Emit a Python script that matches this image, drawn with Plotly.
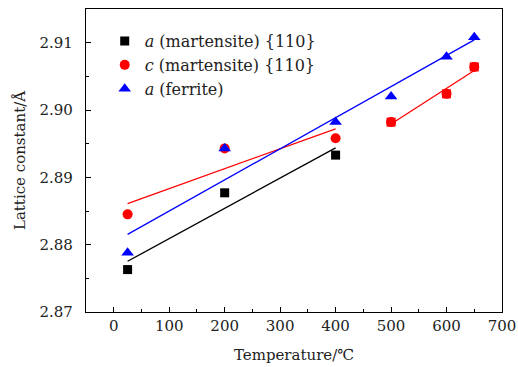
import numpy as np
import plotly.graph_objects as go

temp = [25, 200, 400, 500, 600, 650]
a_mart_x = [25, 200, 400]
a_mart = [2.8763, 2.8877, 2.8933]
c_mart = [2.8845, 2.8943, 2.8958, 2.8982, 2.9024, 2.9064]
a_ferr = [2.8788, 2.8943, 2.8982, 2.9020, 2.9079, 2.9108]

FONT = "DejaVu Serif"

def fit(xs, ys):
    k, b = np.polyfit(xs, ys, 1)
    xe = [xs[0], xs[-1]]
    return xe, [k * x + b for x in xe]

fig = go.Figure()

# fitted lines
for xs, ys, col in [
    (a_mart_x, a_mart, "black"),
    (temp[:3], c_mart[:3], "red"),
    (temp, a_ferr, "blue"),
    (temp[3:], c_mart[3:], "red"),
]:
    fx, fy = fit(xs, ys)
    fig.add_trace(go.Scatter(x=fx, y=fy, mode="lines", line=dict(color=col, width=1.3),
                             showlegend=False, hoverinfo="skip"))

fig.add_trace(go.Scatter(x=a_mart_x, y=a_mart, mode="markers", name="<i>a</i> (martensite) {110}",
                         marker=dict(symbol="square", size=9, color="black")))
# a = c above 400 (drawn as red squares under the circles)
fig.add_trace(go.Scatter(x=temp[3:], y=c_mart[3:], mode="markers", showlegend=False,
                         marker=dict(symbol="square", size=9, color="red")))
fig.add_trace(go.Scatter(x=temp, y=c_mart, mode="markers", name="<i>c</i> (martensite) {110}",
                         marker=dict(symbol="circle", size=10, color="red")))
fig.add_trace(go.Scatter(x=temp, y=a_ferr, mode="markers", name="<i>a</i> (ferrite)",
                         marker=dict(symbol="triangle-up", size=11, color="blue")))

axis_common = dict(showline=True, linecolor="black", linewidth=1.3, mirror=True, automargin=False,
                   ticks="inside", ticklen=5, tickcolor="black", showgrid=False, zeroline=False,
                   tickfont=dict(family=FONT, size=15, color="#222"))

fig.update_xaxes(range=[-50, 700], dtick=100, tick0=0,
                 minor=dict(ticks="inside", ticklen=3, dtick=50, tick0=0, tickcolor="black"),
                 title=dict(text="Temperature/℃", font=dict(family=FONT, size=15, color="#222"), standoff=15),
                 **axis_common)
fig.update_yaxes(range=[2.87, 2.915], dtick=0.01, tick0=2.87, tickformat=".2f",
                 ticklabelstandoff=9,
                 minor=dict(ticks="inside", ticklen=3, dtick=0.005, tick0=2.87, tickcolor="black"),
                 title=dict(text="Lattice constant/Å", font=dict(family=FONT, size=15, color="#222"), standoff=10),
                 **axis_common)

fig.update_layout(
    width=518, height=367,
    margin=dict(l=86, r=16, t=9, b=55),
    plot_bgcolor="white", paper_bgcolor="white",
    legend=dict(x=0.045, y=0.95, xanchor="left", yanchor="top", bgcolor="rgba(0,0,0,0)",
                font=dict(family=FONT, size=16, color="#222"), tracegroupgap=0, itemwidth=30),
)

fig.write_html("out.html", post_script="document.body.style.margin='0';",
               config={"displayModeBar": False})
